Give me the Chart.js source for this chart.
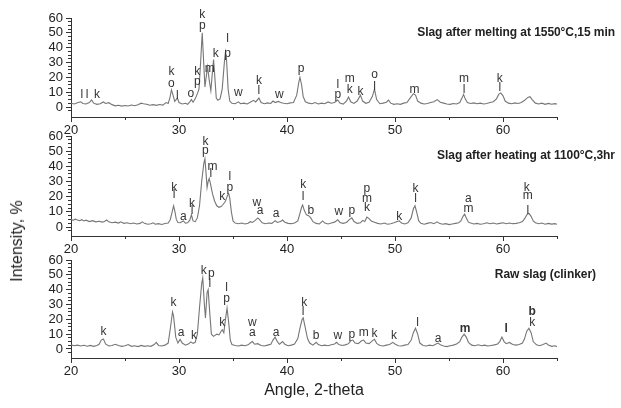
<!DOCTYPE html>
<html>
<head>
<meta charset="utf-8">
<script src="https://cdn.jsdelivr.net/npm/chart.js@4.4.1/dist/chart.umd.min.js"></script>
<style>
  body { margin: 0; background: #fff; }
  #wrap { position: relative; width: 621px; height: 408px; font-family: 'Liberation Sans', Arial, sans-serif; color: #222; }
  #wrap canvas { position: absolute; left: 0; }
  .ttl { position: absolute; font-weight: bold; font-size: 12px; letter-spacing: -0.05px; white-space: nowrap; }
  #ylab { position: absolute; left: 17px; top: 241px; font-size: 16px; white-space: nowrap;
          transform: translate(-50%, -50%) rotate(-90deg); }
</style>
</head>
<body>
<div id="wrap">
  <canvas id="melt" width="621" height="140" style="top:0"></canvas>
  <canvas id="heat" width="621" height="141" style="top:118px"></canvas>
  <canvas id="raw" width="621" height="166" style="top:242px"></canvas>
  <div class="ttl" style="right:6px; top:25px">Slag after melting at 1550°C,15 min</div>
  <div class="ttl" style="right:6px; top:148px">Slag after heating at 1100°C,3hr</div>
  <div class="ttl" style="right:25px; top:267px">Raw slag (clinker)</div>
  <div id="ylab">Intensity, %</div>
</div>
<script>
Chart.defaults.font.family = "'Liberation Sans', Arial, sans-serif";
Chart.defaults.color = '#222';

// diffraction patterns: [2-theta, intensity %]
const melt = [
  [20.0,2.5],[20.3,2.0],[20.6,2.8],[20.9,3.5],[21.1,2.4],[21.4,2.0],[21.7,3.0],[21.9,4.8],[22.1,2.6],[22.4,1.8],
  [22.7,2.2],[23.0,3.4],[23.2,2.4],[23.5,2.9],[23.8,1.6],[24.1,0.8],[24.4,1.2],[24.7,0.6],[25.0,1.0],[25.3,0.7],
  [25.6,1.3],[25.9,0.9],[26.2,1.5],[26.5,2.6],[26.7,2.2],[27.0,1.8],[27.3,1.2],[27.6,1.6],[27.9,1.1],[28.2,1.7],
  [28.5,1.3],[28.8,3.0],[29.0,2.4],[29.15,6],[29.3,11.5],[29.45,8],[29.6,3.8],[29.85,6.0],[30.0,3.0],[30.3,2.0],
  [30.6,2.5],[30.8,1.8],[31.0,3.5],[31.15,5.0],[31.3,3.2],[31.5,5.5],[31.7,9.0],[31.85,12],[32.0,30],[32.15,50],
  [32.3,28],[32.4,13.5],[32.55,22],[32.65,27],[32.8,18],[32.95,11],[33.1,24],[33.2,32],[33.3,22],[33.45,6],
  [33.6,4.5],[33.8,5.5],[34.0,12],[34.2,30],[34.3,37],[34.4,32],[34.55,12],[34.7,4],[34.9,2.5],[35.2,2.2],
  [35.5,3.5],[35.7,2.2],[36.0,2.6],[36.3,2.0],[36.6,3.2],[36.9,4.5],[37.1,3.4],[37.4,6.0],[37.6,3.0],[37.9,2.2],
  [38.2,2.8],[38.5,2.4],[38.7,4.0],[38.9,3.0],[39.2,3.8],[39.4,3.0],[39.7,2.5],[40.0,2.2],[40.3,2.8],[40.6,3.0],
  [40.9,8],[41.1,17],[41.2,20],[41.35,15],[41.5,7],[41.7,3.5],[42.0,2.6],[42.3,2.2],[42.6,3.0],[42.9,2.0],
  [43.2,2.6],[43.5,2.2],[43.8,3.4],[44.1,2.5],[44.4,3.0],[44.7,4.7],[44.9,2.6],[45.2,2.0],[45.5,4.0],[45.7,6.7],
  [45.9,3.5],[46.2,2.4],[46.5,4.0],[46.8,8.0],[47.0,4.0],[47.3,2.5],[47.6,3.2],[47.9,7.0],[48.1,12.0],[48.3,5.0],
  [48.6,2.2],[48.9,2.6],[49.2,3.2],[49.4,4.7],[49.6,2.6],[49.9,1.8],[50.2,2.2],[50.5,1.8],[50.8,2.6],[51.1,3.0],
  [51.4,6.0],[51.7,9.0],[51.9,8.0],[52.1,4.0],[52.4,2.6],[52.7,2.0],[53.0,2.4],[53.3,3.0],[53.6,3.6],[53.9,5.0],
  [54.2,3.2],[54.5,2.6],[54.8,2.0],[55.1,1.8],[55.4,2.4],[55.7,2.0],[56.0,3.0],[56.2,6],[56.35,8.5],[56.5,5.5],
  [56.7,3.0],[57.0,2.4],[57.3,2.8],[57.6,2.2],[57.9,2.6],[58.2,2.0],[58.5,2.4],[58.8,3.0],[59.1,3.6],[59.4,5.5],
  [59.6,8.5],[59.8,9.5],[60.0,7.5],[60.2,4.0],[60.5,2.6],[60.8,2.2],[61.1,2.8],[61.4,2.4],[61.7,3.0],[62.0,4.5],
  [62.3,6.5],[62.5,7.0],[62.7,5.0],[63.0,2.6],[63.3,2.0],[63.6,2.6],[63.9,1.8],[64.2,2.4],[64.5,1.9],[64.8,2.3],
  [65.0,2.0]
];

const heat = [
  [20.0,5.0],[20.2,4.4],[20.4,5.2],[20.6,4.6],[20.8,4.2],[21.0,4.8],[21.2,4.0],[21.4,4.5],[21.7,3.6],[22.0,4.2],
  [22.3,3.4],[22.6,3.8],[22.9,3.2],[23.1,3.6],[23.3,4.6],[23.5,3.4],[23.8,2.8],[24.1,3.2],[24.4,2.6],[24.6,3.4],
  [24.9,2.4],[25.2,2.8],[25.5,2.2],[25.8,2.6],[26.1,2.0],[26.4,2.4],[26.6,3.4],[26.8,2.4],[27.1,1.8],[27.4,2.2],
  [27.6,2.8],[27.8,1.8],[28.1,2.2],[28.4,1.7],[28.7,2.3],[29.0,2.6],[29.2,5],[29.4,11],[29.5,14],[29.6,11],
  [29.75,5],[29.9,3.0],[30.1,2.8],[30.4,4.0],[30.6,2.6],[30.8,2.8],[31.0,4.5],[31.15,8.0],[31.3,4.0],[31.5,3.5],
  [31.7,6],[31.9,14],[32.1,30],[32.3,42],[32.4,45],[32.5,36],[32.6,26],[32.7,30],[32.8,32],[32.9,29],
  [33.1,22],[33.3,17],[33.5,14],[33.7,13],[33.9,13.5],[34.1,15],[34.3,17],[34.5,21],[34.6,22],[34.7,19],
  [34.85,10],[35.0,4],[35.2,2.6],[35.5,2.2],[35.8,2.6],[36.1,2.0],[36.4,2.5],[36.6,3.5],[36.8,3.0],[37.0,4.0],
  [37.3,6.0],[37.5,4.5],[37.7,2.8],[38.0,2.2],[38.3,2.6],[38.6,2.4],[38.9,4.2],[39.1,3.0],[39.4,3.6],[39.6,4.6],
  [39.8,3.2],[40.1,2.4],[40.4,2.2],[40.7,2.6],[41.0,4],[41.2,9],[41.35,13],[41.45,14.5],[41.6,11],[41.8,8],
  [42.0,7.5],[42.2,6.0],[42.4,3.5],[42.7,2.4],[43.0,2.0],[43.3,4.0],[43.5,2.6],[43.8,2.0],[44.1,2.6],[44.4,3.2],
  [44.7,4.8],[44.9,3.0],[45.2,2.4],[45.5,3.0],[45.8,5.0],[46.0,6.0],[46.2,3.6],[46.5,2.4],[46.8,2.8],[47.0,4.4],
  [47.2,3.6],[47.4,6.5],[47.6,5.5],[47.8,4.0],[48.1,3.2],[48.4,2.4],[48.7,2.0],[49.0,2.6],[49.3,1.8],[49.6,2.2],
  [49.9,2.8],[50.2,3.6],[50.4,4.0],[50.6,2.6],[50.9,2.0],[51.2,2.8],[51.5,6],[51.7,12],[51.85,14],[52.0,10],
  [52.2,4],[52.4,2.4],[52.7,1.8],[53.0,2.4],[53.3,3.0],[53.6,2.2],[53.9,3.4],[54.1,2.4],[54.4,1.8],[54.7,2.2],
  [55.0,1.6],[55.3,2.0],[55.6,2.4],[55.9,2.8],[56.1,4],[56.3,7],[56.45,8.5],[56.6,6],[56.8,3.2],[57.0,2.6],
  [57.3,2.0],[57.6,2.4],[57.9,1.8],[58.2,2.2],[58.5,2.8],[58.8,2.2],[59.1,2.6],[59.4,2.0],[59.7,2.4],[60.0,2.8],
  [60.3,2.2],[60.6,2.6],[60.9,2.2],[61.2,2.4],[61.5,2.8],[61.8,3.6],[62.0,5.5],[62.2,8],[62.4,9.0],[62.6,7],
  [62.8,4.0],[63.0,2.8],[63.3,2.2],[63.6,2.6],[63.9,1.8],[64.2,2.4],[64.5,1.9],[64.8,2.2],[65.0,1.8]
];

const raw = [
  [20.0,2.8],[20.3,2.2],[20.6,2.6],[20.9,2.0],[21.2,2.5],[21.5,1.9],[21.8,2.4],[22.1,1.8],[22.4,2.4],[22.6,3.2],
  [22.8,6.0],[23.0,6.7],[23.2,3.4],[23.5,2.0],[23.8,2.4],[24.1,3.2],[24.4,2.4],[24.7,1.8],[25.0,2.2],[25.3,3.0],
  [25.6,1.8],[25.9,2.2],[26.2,1.6],[26.5,2.4],[26.8,1.8],[27.1,2.2],[27.4,1.8],[27.7,3.0],[27.9,4.5],[28.1,2.4],
  [28.4,2.0],[28.7,2.6],[29.0,4.0],[29.2,14],[29.4,25],[29.5,22],[29.7,8],[29.9,4],[30.1,6.5],[30.3,4.0],
  [30.6,2.6],[30.9,3.5],[31.1,4.8],[31.3,3.8],[31.5,4.5],[31.7,10],[31.9,28],[32.1,44],[32.2,48],[32.35,30],
  [32.45,21],[32.6,38],[32.7,40],[32.85,24],[33.0,10],[33.2,8.5],[33.5,10],[33.7,9.5],[33.9,12],[34.0,13],
  [34.15,11],[34.3,20],[34.45,27.5],[34.6,18],[34.75,6],[34.9,3.0],[35.2,2.4],[35.5,2.0],[35.8,2.6],[36.1,2.2],
  [36.4,2.8],[36.6,4.0],[36.8,5.0],[37.0,3.2],[37.3,3.6],[37.6,2.4],[37.9,2.0],[38.2,2.6],[38.5,3.2],[38.7,6],
  [38.9,8.0],[39.1,5.0],[39.3,3.2],[39.6,5.0],[39.8,3.2],[40.1,2.2],[40.4,2.6],[40.7,3.4],[41.0,7],[41.2,14],
  [41.4,20],[41.5,21],[41.7,14],[41.9,7],[42.1,4.0],[42.4,2.6],[42.7,4.5],[42.9,3.0],[43.2,2.2],[43.5,2.6],
  [43.8,2.2],[44.1,2.8],[44.4,3.4],[44.6,4.5],[44.8,3.0],[45.1,2.4],[45.4,2.8],[45.7,3.6],[45.9,5.5],[46.1,6.0],
  [46.3,4.0],[46.6,3.6],[46.9,5.5],[47.1,6.0],[47.3,4.0],[47.6,3.6],[47.9,5.5],[48.1,6.5],[48.3,3.8],[48.6,2.4],
  [48.9,2.0],[49.2,2.6],[49.5,3.0],[49.8,4.5],[50.0,3.4],[50.3,2.2],[50.6,2.0],[50.9,2.6],[51.2,3.0],[51.5,6],
  [51.7,11],[51.9,14],[52.1,10],[52.3,4],[52.6,2.4],[52.9,2.0],[53.2,2.6],[53.5,2.2],[53.8,3.4],[54.0,4.0],
  [54.2,2.8],[54.5,2.0],[54.8,1.6],[55.1,2.2],[55.4,2.6],[55.7,3.4],[56.0,5],[56.2,8],[56.4,10],[56.6,8],
  [56.8,4.5],[57.1,2.6],[57.4,2.2],[57.7,2.8],[58.0,2.2],[58.3,2.6],[58.6,2.0],[58.9,2.4],[59.2,2.8],[59.5,3.4],
  [59.7,5],[59.9,8.0],[60.1,5.0],[60.3,3.6],[60.6,4.4],[60.9,3.0],[61.2,2.6],[61.5,3.0],[61.8,4.0],[62.0,7],
  [62.2,12],[62.4,14],[62.6,11],[62.8,5],[63.1,2.8],[63.4,2.2],[63.7,3.0],[64.0,4.0],[64.2,2.6],[64.5,1.8],
  [64.8,2.2],[65.0,1.6]
];

// phase marks: [2-theta, height, letter, weight]
const meltPhases = [
  [21.0,8,'l'],[21.5,8,'l'],[22.4,8,'k'],
  [29.3,23.6,'k'],[29.3,16,'o'],[29.85,7.5,'l'],[31.1,8.8,'o'],[31.7,24,'k'],[31.7,17,'p'],
  [32.15,62,'k'],[32.15,54.6,'p'],[32.85,26,'m'],[33.4,36,'k'],[34.5,46,'l'],[34.5,36,'p'],
  [35.5,9.5,'w'],[37.4,17.5,'k'],[37.4,11,'l'],[39.3,8,'w'],[41.3,26,'p'],
  [44.7,15,'l'],[44.7,8,'p'],[45.8,19,'m'],[45.8,12,'k'],[46.8,10,'k'],
  [48.1,21.5,'o'],[48.1,14,'l'],[51.8,11.5,'m'],[56.4,19,'m'],[56.4,12,'l'],[59.7,19,'k'],[59.7,13,'l']
];
const heatPhases = [
  [29.55,26,'k'],[29.55,21,'l'],[30.4,6.5,'a'],[31.2,15.5,'k'],[31.2,10.5,'l'],
  [32.45,56.5,'k'],[32.45,50,'p'],[33.1,40,'m'],[32.95,35,'l'],
  [34.0,20,'k'],[34.7,33,'l'],[34.7,26,'p'],
  [37.2,16,'w'],[37.5,10.5,'a'],[39.0,9,'a'],
  [41.5,27.7,'k'],[41.5,20,'l'],[42.2,10.5,'b'],
  [44.8,10,'w'],[46.0,11,'p'],[47.4,25,'p'],[47.4,18.5,'m'],[47.4,12.5,'k'],
  [50.4,6.6,'k'],[51.9,25,'k'],[51.9,18.5,'l'],[56.8,18.5,'a'],[56.8,12,'m'],
  [62.2,26,'k'],[62.3,20.5,'m'],[62.3,11,'l']
];
const rawPhases = [
  [23.0,11.5,'k'],[29.5,31,'k'],[30.2,11,'a'],[31.4,8.8,'k'],
  [32.3,52.6,'k'],[33.0,51,'p'],[32.85,44,'l'],
  [34.0,18,'k'],[34.4,41,'l'],[34.4,34,'p'],
  [36.8,17.5,'w'],[36.8,11,'a'],[39.0,11,'a'],
  [41.6,31,'k'],[41.5,25,'l'],[42.7,8.8,'b'],
  [44.7,8.8,'w'],[46.0,9.4,'p'],[47.1,10.8,'m'],[48.1,10,'k'],[49.9,8.8,'k'],
  [52.1,18,'l'],[54.0,7,'a'],[56.5,13.5,'m','bold'],[60.3,14,'l','bold'],[62.7,25,'b','bold'],[62.7,18,'k']
];

function phaseMarks(items) {
  return {
    id: 'phaseMarks',
    afterDatasetsDraw(chart) {
      const {ctx, scales: {x, y}} = chart;
      ctx.save();
      ctx.fillStyle = '#333';
      ctx.textAlign = 'center';
      ctx.textBaseline = 'middle';
      items.forEach(([a, v, t, w]) => {
        ctx.font = (w || 'normal') + " 12px 'Liberation Sans', Arial, sans-serif";
        ctx.fillText(t, x.getPixelForValue(a), y.getPixelForValue(v));
      });
      ctx.restore();
    }
  };
}

const axisColor = '#333';

function panel(id, data, phases, yMin, xHeight, xTitle) {
  return new Chart(document.getElementById(id), {
    type: 'line',
    data: {
      datasets: [{
        data: data,
        borderColor: '#767676',
        borderWidth: 1.1,
        pointRadius: 0,
        tension: 0,
      }]
    },
    plugins: [phaseMarks(phases)],
    options: {
      responsive: false,
      animation: false,
      layout: { padding: { top: 18, right: 64, left: 0, bottom: 0 } },
      plugins: { legend: { display: false }, tooltip: { enabled: false } },
      scales: {
        x: {
          type: 'linear',
          min: 20,
          max: 65,
          border: { color: axisColor },
          grid: { drawOnChartArea: false, tickLength: 5, tickColor: axisColor },
          ticks: { stepSize: 10, autoSkip: false, maxRotation: 0, padding: 1, font: { size: 13 } },
          afterBuildTicks: s => { s.ticks = s.ticks.filter(t => t.value % 10 === 0); },
          title: {
            display: !!xTitle,
            text: xTitle || '',
            font: { size: 16 },
            padding: { top: 0, bottom: 8 },
          },
          afterFit: s => { s.height = xHeight; },
        },
        y: {
          min: yMin,
          max: 60,
          border: { color: axisColor },
          grid: { drawOnChartArea: false, tickLength: 5, tickColor: axisColor },
          ticks: { stepSize: 5, autoSkip: false, padding: 3, font: { size: 13 } },
          afterBuildTicks: s => { s.ticks = s.ticks.filter(t => t.value >= 0 && t.value % 10 === 0); },
          afterFit: s => { s.width = 71; },
        },
        // minor tick marks sitting on the main axis lines
        xMinor: {
          type: 'linear',
          axis: 'x',
          min: 20,
          max: 65,
          position: { y: yMin },
          border: { display: false },
          grid: { drawOnChartArea: false, tickLength: 3, tickColor: axisColor },
          ticks: { display: false, stepSize: 5, autoSkip: false },
          afterBuildTicks: s => { s.ticks = s.ticks.filter(t => t.value % 10 !== 0); },
        },
        yMinor: {
          type: 'linear',
          axis: 'y',
          min: yMin,
          max: 60,
          position: { x: 20 },
          border: { display: false },
          grid: { drawOnChartArea: false, tickLength: 3, tickColor: axisColor },
          ticks: { display: false, stepSize: 2.5, autoSkip: false },
          afterBuildTicks: s => { s.ticks = s.ticks.filter(t => t.value > yMin + 0.5 && t.value % 10 !== 0); },
        },
      },
    },
  });
}

panel('melt', melt, meltPhases, -6.74, 23);
panel('heat', heat, heatPhases, -5.93, 23);
panel('raw', raw, rawPhases, -6.07, 50, 'Angle, 2-theta');
</script>
</body>
</html>
